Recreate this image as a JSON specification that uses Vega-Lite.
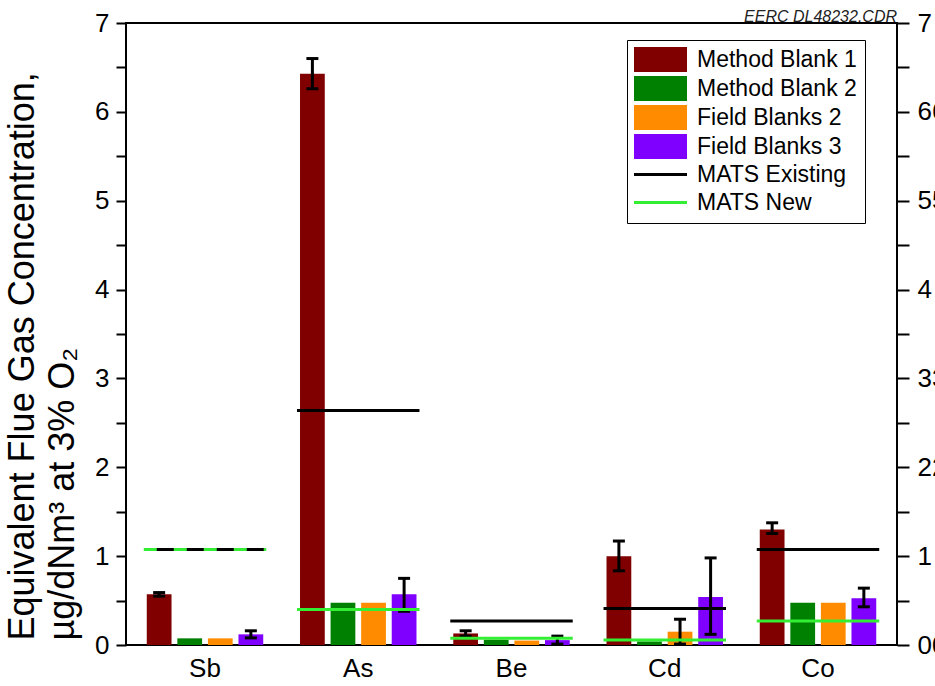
{
  "$schema": "https://vega.github.io/schema/vega-lite/v6.json",
  "width": 771,
  "height": 622,
  "autosize": {"type": "none"},
  "padding": {"left": 126, "top": 23, "right": 38, "bottom": 41},
  "background": "white",
  "config": {
    "font": "Liberation Sans",
    "view": {"stroke": "black", "strokeWidth": 2},
    "axis": {"grid": false, "domain": false, "labelColor": "black", "tickColor": "black", "titleColor": "black", "labelFont": "Liberation Sans", "titleFont": "Liberation Sans"}
  },
  "title": {
    "text": "EERC DL48232.CDR",
    "anchor": "end",
    "orient": "top",
    "frame": "group",
    "fontSize": 16,
    "fontStyle": "italic",
    "fontWeight": "normal",
    "font": "Liberation Sans",
    "color": "#222222",
    "offset": 3,
    "dy": 18
  },
  "datasets": {
    "bars": [
      {"element": "Sb", "series": "Method Blank 1", "value": 0.57},
      {"element": "Sb", "series": "Method Blank 2", "value": 0.075},
      {"element": "Sb", "series": "Field Blanks 2", "value": 0.075},
      {"element": "Sb", "series": "Field Blanks 3", "value": 0.12},
      {"element": "As", "series": "Method Blank 1", "value": 6.43},
      {"element": "As", "series": "Method Blank 2", "value": 0.475},
      {"element": "As", "series": "Field Blanks 2", "value": 0.475},
      {"element": "As", "series": "Field Blanks 3", "value": 0.57},
      {"element": "Be", "series": "Method Blank 1", "value": 0.13},
      {"element": "Be", "series": "Method Blank 2", "value": 0.06},
      {"element": "Be", "series": "Field Blanks 2", "value": 0.05},
      {"element": "Be", "series": "Field Blanks 3", "value": 0.055},
      {"element": "Cd", "series": "Method Blank 1", "value": 1.0},
      {"element": "Cd", "series": "Method Blank 2", "value": 0.04},
      {"element": "Cd", "series": "Field Blanks 2", "value": 0.15},
      {"element": "Cd", "series": "Field Blanks 3", "value": 0.54},
      {"element": "Co", "series": "Method Blank 1", "value": 1.3},
      {"element": "Co", "series": "Method Blank 2", "value": 0.475},
      {"element": "Co", "series": "Field Blanks 2", "value": 0.475},
      {"element": "Co", "series": "Field Blanks 3", "value": 0.525}
    ],
    "errors": [
      {"element": "Sb", "series": "Method Blank 1", "lo": 0.55, "hi": 0.59},
      {"element": "Sb", "series": "Field Blanks 3", "lo": 0.08, "hi": 0.16},
      {"element": "As", "series": "Method Blank 1", "lo": 6.26, "hi": 6.6},
      {"element": "As", "series": "Field Blanks 3", "lo": 0.38, "hi": 0.75},
      {"element": "Be", "series": "Method Blank 1", "lo": 0.1, "hi": 0.16},
      {"element": "Be", "series": "Field Blanks 3", "lo": 0.01, "hi": 0.1},
      {"element": "Cd", "series": "Method Blank 1", "lo": 0.835, "hi": 1.17},
      {"element": "Cd", "series": "Field Blanks 2", "lo": 0.01, "hi": 0.29},
      {"element": "Cd", "series": "Field Blanks 3", "lo": 0.12, "hi": 0.98},
      {"element": "Co", "series": "Method Blank 1", "lo": 1.255, "hi": 1.375},
      {"element": "Co", "series": "Field Blanks 3", "lo": 0.43, "hi": 0.64}
    ],
    "mats": [
      {"element": "Sb", "series": "MATS New", "value": 1.075},
      {"element": "As", "series": "MATS New", "value": 0.4},
      {"element": "Be", "series": "MATS New", "value": 0.075},
      {"element": "Cd", "series": "MATS New", "value": 0.055},
      {"element": "Co", "series": "MATS New", "value": 0.27},
      {"element": "Sb", "series": "MATS Existing", "value": 1.075},
      {"element": "As", "series": "MATS Existing", "value": 2.64},
      {"element": "Be", "series": "MATS Existing", "value": 0.27},
      {"element": "Cd", "series": "MATS Existing", "value": 0.41},
      {"element": "Co", "series": "MATS Existing", "value": 1.075}
    ]
  },
  "layer": [
    {
      "layer": [
        {
          "data": {"name": "bars"},
          "mark": {"type": "bar"},
          "encoding": {
            "x": {
              "field": "element",
              "type": "nominal",
              "sort": ["Sb", "As", "Be", "Cd", "Co"],
              "scale": {"domain": ["Sb", "As", "Be", "Cd", "Co"], "paddingInner": 0.24, "paddingOuter": 0.1355},
              "axis": {"orient": "bottom", "title": null, "ticks": false, "labelAngle": 0, "labelFontSize": 26, "labelPadding": 10, "labelDx": 7}
            },
            "xOffset": {
              "field": "series",
              "type": "nominal",
              "sort": ["Method Blank 1", "Method Blank 2", "Field Blanks 2", "Field Blanks 3"],
              "scale": {"domain": ["Method Blank 1", "Method Blank 2", "Field Blanks 2", "Field Blanks 3"], "paddingInner": 0.19, "paddingOuter": 0}
            },
            "y": {
              "field": "value",
              "type": "quantitative",
              "scale": {"domain": [0, 7], "nice": false, "zero": true},
              "axis": {
                "orient": "left",
                "values": [0, 0.5, 1, 1.5, 2, 2.5, 3, 3.5, 4, 4.5, 5, 5.5, 6, 6.5, 7],
                "labelExpr": "datum.value % 1 === 0 ? format(datum.value, 'd') : ''",
                "labelOverlap": false,
                "labelFlush": false,
                "labelFontSize": 26,
                "labelPadding": 7,
                "tickSize": 10,
                "tickWidth": 2,
                "encode": {"ticks": {"update": {"x2": {"signal": "datum.value % 1 === 0 ? -10 : -6"}}}},
                "title": ["Equivalent Flue Gas Concentration,", "  µg/dNm³ at 3% O₂"],
                "titleFontSize": 36,
                "titleFontWeight": "normal",
                "titleLineHeight": 40,
                "titlePadding": 13,
                "titleAnchor": "start",
                "titleAlign": "left",
                "titleY": 617
              }
            },
            "color": {
              "field": "series",
              "type": "nominal",
              "scale": {
                "domain": ["Method Blank 1", "Method Blank 2", "Field Blanks 2", "Field Blanks 3", "MATS Existing", "MATS New"],
                "range": ["#800000", "#008000", "#ff8c00", "#8000ff", "#000000", "#33ee33"]
              },
              "legend": {
                "title": null,
                "orient": "none",
                "legendX": 501,
                "legendY": 17,
                "direction": "vertical",
                "strokeColor": "black",
                "fillColor": "white",
                "padding": 8,
                "labelFontSize": 23,
                "labelFont": "Liberation Sans",
                "labelColor": "black",
                "labelOffset": 25,
                "rowPadding": 4,
                "symbolSize": 625,
                "symbolOffset": 14,
                "symbolStrokeWidth": 3,
                "encode": {
                  "symbols": {
                    "update": {
                      "shape": {"signal": "(datum.value === 'MATS Existing' || datum.value === 'MATS New') ? 'M-2.12,0H2.12' : 'M-2.12,-1H2.12V1H-2.12Z'"},
                      "fill": {"signal": "(datum.value === 'MATS Existing' || datum.value === 'MATS New') ? 'transparent' : scale('color', datum.value)"},
                      "stroke": {"signal": "(datum.value === 'MATS Existing' || datum.value === 'MATS New') ? scale('color', datum.value) : 'transparent'"},
                      "strokeWidth": {"signal": "(datum.value === 'MATS Existing' || datum.value === 'MATS New') ? 3 : 0"},
                      "opacity": {"value": 1}
                    }
                  }
                }
              }
            }
          }
        },
        {
          "data": {"name": "errors"},
          "mark": {"type": "rule", "color": "black", "strokeWidth": 3},
          "encoding": {
            "x": {"field": "element", "type": "nominal"},
            "xOffset": {"field": "series", "type": "nominal"},
            "y": {"field": "lo", "type": "quantitative"},
            "y2": {"field": "hi"}
          }
        },
        {
          "data": {"name": "errors"},
          "mark": {"type": "tick", "color": "black", "size": 12, "thickness": 3, "opacity": 1},
          "encoding": {
            "x": {"field": "element", "type": "nominal"},
            "xOffset": {"field": "series", "type": "nominal"},
            "y": {"field": "hi", "type": "quantitative"}
          }
        },
        {
          "data": {"name": "errors"},
          "mark": {"type": "tick", "color": "black", "size": 12, "thickness": 3, "opacity": 1},
          "encoding": {
            "x": {"field": "element", "type": "nominal"},
            "xOffset": {"field": "series", "type": "nominal"},
            "y": {"field": "lo", "type": "quantitative"}
          }
        },
        {
          "data": {"name": "mats"},
          "mark": {"type": "rule", "strokeWidth": 3, "xOffset": -3, "x2Offset": 3, "strokeDashOffset": 17, "strokeCap": "butt"},
          "encoding": {
            "x": {"field": "element", "type": "nominal", "bandPosition": 0},
            "x2": {"field": "element", "bandPosition": 1},
            "y": {"field": "value", "type": "quantitative"},
            "color": {"field": "series", "type": "nominal"},
            "strokeDash": {
              "condition": {"test": "datum.element === 'Sb' && datum.series === 'MATS Existing'", "value": [17, 13]},
              "value": [1, 0]
            }
          }
        }
      ]
    },
    {
      "data": {"name": "bars"},
      "mark": {"type": "point", "opacity": 0},
      "encoding": {
        "x": {"field": "element", "type": "nominal"},
        "y": {
          "field": "value",
          "type": "quantitative",
          "scale": {"domain": [0, 7], "nice": false, "zero": true},
          "axis": {
            "orient": "right",
            "values": [0, 0.5, 1, 1.5, 2, 2.5, 3, 3.5, 4, 4.5, 5, 5.5, 6, 6.5, 7],
            "labelExpr": "datum.value % 1 !== 0 ? '' : ((datum.value === 7 || datum.value === 4 || datum.value === 1) ? format(datum.value, 'd') : format(datum.value, 'd') + format(datum.value, 'd'))",
            "labelOverlap": false,
            "labelFlush": false,
            "labelFontSize": 26,
            "labelPadding": 8,
            "tickSize": 12,
            "tickWidth": 2,
            "encode": {"ticks": {"update": {"x2": {"signal": "datum.value % 1 === 0 ? 12 : 6"}}}},
            "title": null
          }
        }
      }
    }
  ],
  "resolve": {"scale": {"y": "independent"}, "axis": {"y": "independent"}}
}
